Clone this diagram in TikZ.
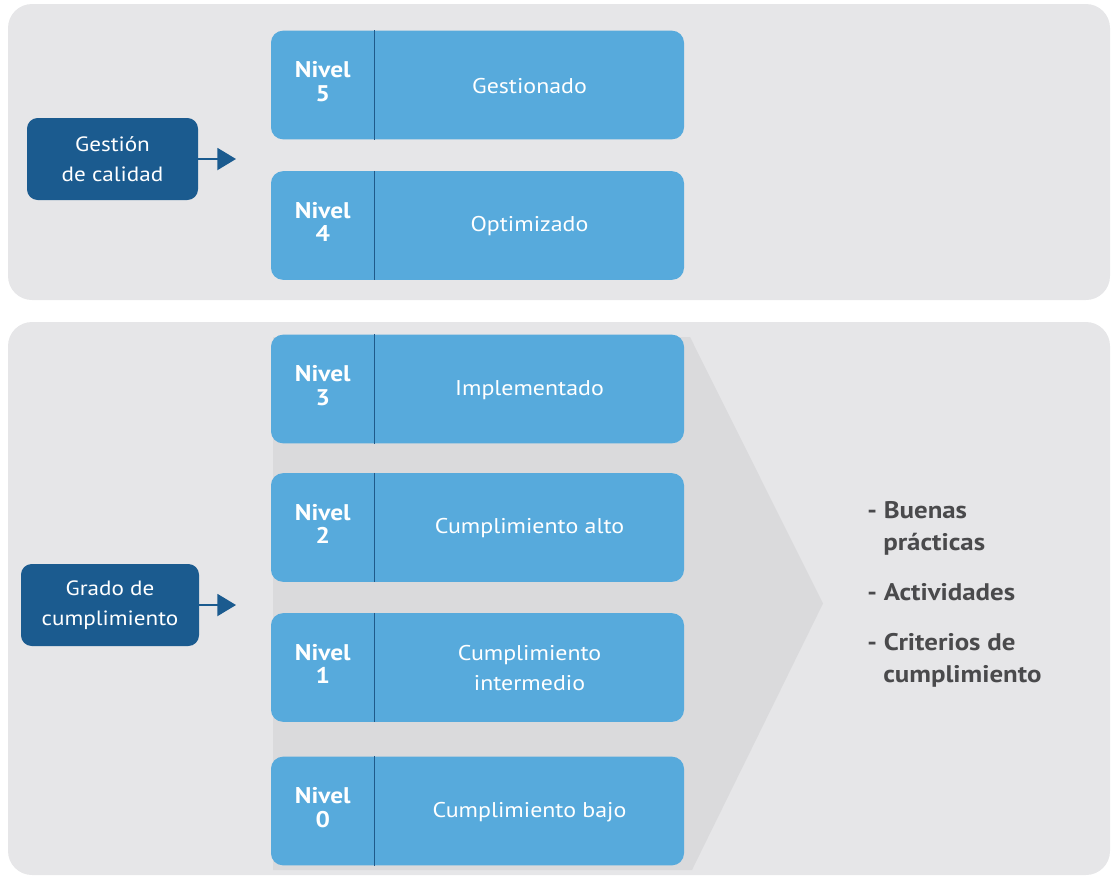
\documentclass[tikz,border=0pt]{standalone}
\usepackage{fontspec}
\setmainfont{PT Sans}[FakeStretch=1.12]
\usetikzlibrary{arrows.meta}
\definecolor{panel}{HTML}{E6E6E8}
\definecolor{chev}{HTML}{DADADC}
\definecolor{lvl}{HTML}{57AADC}
\definecolor{dark}{HTML}{1B5B8F}
\definecolor{divc}{HTML}{1F5A8A}
\definecolor{txt}{HTML}{4A4A4C}
\tikzset{
  panelbg/.style={fill=panel, rounded corners=18pt},
  lvlbox/.style={fill=lvl, rounded corners=9pt, minimum width=309.75pt, minimum height=81.5pt, inner sep=0pt},
  divline/.style={draw=divc, line width=1.1pt},
  nivtxt/.style={text=white, align=center, font=\bfseries\fontsize{17}{17.5}\selectfont, inner sep=0pt},
  lbltxt/.style={text=white, align=center, font=\fontsize{16}{23}\selectfont, inner sep=0pt},
  darkbox/.style={fill=dark, rounded corners=8pt, text=white, align=center, minimum height=61.5pt, inner sep=0pt, font=\fontsize{15.5}{22.5}\selectfont},
  arr/.style={draw=dark, line width=1.5pt, -{Triangle[length=14pt,width=16.5pt]}},
  righttxt/.style={text=txt, anchor=base west, inner sep=0pt, font=\bfseries\fontsize{18}{24}\selectfont},
}
\begin{document}
\begin{tikzpicture}[x=0.75pt, y=-0.75pt]
\useasboundingbox (0,0) rectangle (1112,879);
% panels
\fill[panelbg] (8,4) rectangle (1110,300);
\fill[panelbg] (8,322) rectangle (1110,875);
% chevron
\fill[chev] (273,337) -- (690,337) -- (823,603.5) -- (692,870) -- (273,870) -- cycle;
% level boxes
\foreach \nm/\cy/\num/\lab in {b5/85/5/Gestionado, b4/225.5/4/Optimizado, b3/389/3/Implementado, b2/527.5/2/Cumplimiento alto, b1/667.5/1/{Cumplimiento\\intermedio}, b0/811/0/Cumplimiento bajo}{
  \node[lvlbox] (\nm) at (477.5,\cy) {};
  \draw[divline] ([xshift=78pt]\nm.north west) -- ([xshift=78pt]\nm.south west);
  \node[nivtxt] (\nm n) at ([xshift=39pt,yshift=2.5pt]\nm.west) {Nivel\\\num};
  \node[lbltxt] (\nm l) at ([xshift=39pt,yshift=-0.5pt]\nm.center) {\lab};
}
% dark boxes and arrows
\node[darkbox, minimum width=128.25pt] (gc) at (112.5,159) {Gestión\\de calidad};
\coordinate (gca) at (236,159);
\draw[arr] (gc.east) -- (gca);
\node[darkbox, minimum width=133.5pt] (gd) at (110,605) {Grado de\\cumplimiento};
\coordinate (gda) at (236,605);
\draw[arr] (gd.east) -- (gda);
% right text
\node[righttxt] (r1) at (867,518) {- Buenas};
\node[righttxt] (r2) at (883,550) {prácticas};
\node[righttxt] (r3) at (867,600) {- Actividades};
\node[righttxt] (r4) at (867,650) {- Criterios de};
\node[righttxt] (r5) at (883,682) {cumplimiento};
\end{tikzpicture}
\end{document}
